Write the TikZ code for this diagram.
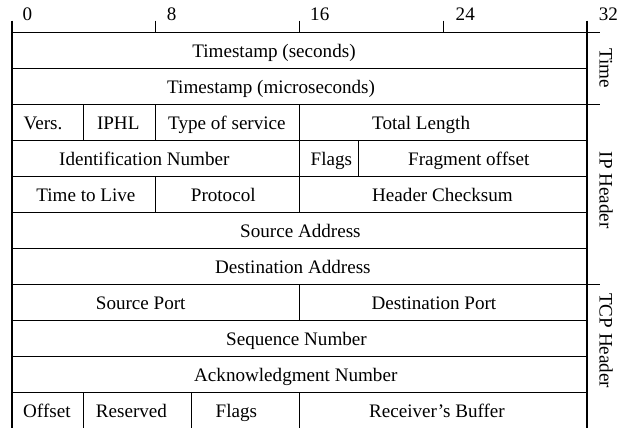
\documentclass[tikz,border=0pt]{standalone}
\usepackage{fontspec}
\setmainfont{Liberation Serif}
% one bit of the word is \bitw wide; rows are 36 units high
\newcommand\bitw{17.96875}
% \fld{name}{first bit}{end bit}{row}{x of text}{text}
\newcommand\fld[6]{%
  \node[cell, minimum width={(#3-#2)*\bitw pt}] (#1)
    at ({12+(#2+#3)/2*\bitw}, {32.7+36*#4+18}) {};
  \node[lbl] (#1-t) at (#5, {32.7+36*#4+24.6}) {#6};}
\tikzset{
  cell/.style={draw, line width=1.1pt, inner sep=0pt, minimum height=36pt},
  lbl/.style={anchor=base west, inner sep=0pt},
  rule/.style={line width=1.1pt},
  bitnum/.style={anchor=base west, inner sep=0pt},
  group/.style={rotate=-90, anchor=base west, inner sep=0pt},
}
\begin{document}
\begin{tikzpicture}[x=1pt, y=-1pt, font=\fontsize{19.1}{23}\selectfont]
\useasboundingbox (0,0) rectangle (618,428);

% bit ruler
\coordinate (t0) at (12,20.7);
\coordinate (t8) at ({12+8*\bitw},20.7);
\coordinate (t16) at ({12+16*\bitw},20.7);
\coordinate (t24) at ({12+24*\bitw},20.7);
\coordinate (t32) at (587,20.7);
\foreach \t in {t0,t8,t16,t24,t32} \draw[rule] (\t) -- ++(0,12);
\node[bitnum] (n0)  at (22.3,20.7) {0};
\node[bitnum] (n8)  at (166.7,20.7) {8};
\node[bitnum] (n16) at (310,20.7) {16};
\node[bitnum] (n24) at (455.5,20.7) {24};
\node[bitnum] (n32) at (598.6,20.7) {32};

% time stamp
\fld{tss}{0}{32}{0}{192.2}{Timestamp (seconds)}
\fld{tsu}{0}{32}{1}{167}{Timestamp (microseconds)}
% IP header
\fld{vers}{0}{4}{2}{23.5}{Vers.}
\fld{iphl}{4}{8}{2}{96.8}{IPHL}
\fld{tos}{8}{16}{2}{168}{Type of service}
\fld{tlen}{16}{32}{2}{372}{Total Length}
\fld{ident}{0}{16}{3}{59}{Identification Number}
\fld{ipflags}{16}{19.3}{3}{310.5}{Flags}
\fld{frag}{19.3}{32}{3}{408}{Fragment offset}
\fld{ttl}{0}{8}{4}{36.2}{Time to Live}
\fld{proto}{8}{16}{4}{190.7}{Protocol}
\fld{hcs}{16}{32}{4}{372}{Header Checksum}
\fld{src}{0}{32}{5}{240}{Source Address}
\fld{dst}{0}{32}{6}{215}{Destination Address}
% TCP header
\fld{sport}{0}{16}{7}{95.7}{Source Port}
\fld{dport}{16}{32}{7}{371.4}{Destination Port}
\fld{seq}{0}{32}{8}{226}{Sequence Number}
\fld{ack}{0}{32}{9}{194}{Acknowledgment Number}
\fld{off}{0}{4}{10}{23}{Offset}
\fld{res}{4}{10}{10}{95.7}{Reserved}
\fld{tcpflags}{10}{16}{10}{215.5}{Flags}
\fld{rbuf}{16}{32}{10}{369}{Receiver's Buffer}

% group brackets on the right
\draw[rule] (tss.north east) -- ++(12,0);
\draw[rule] (tlen.north east) -- ++(12,0);
\draw[rule] (dport.north east) -- ++(12,0);
\node[group] (gtime) at (599.5,48) {Time};
\node[group] (gip) at (599.5,151.5) {IP Header};
\node[group] (gtcp) at (599.5,293) {TCP Header};
\end{tikzpicture}
\end{document}
